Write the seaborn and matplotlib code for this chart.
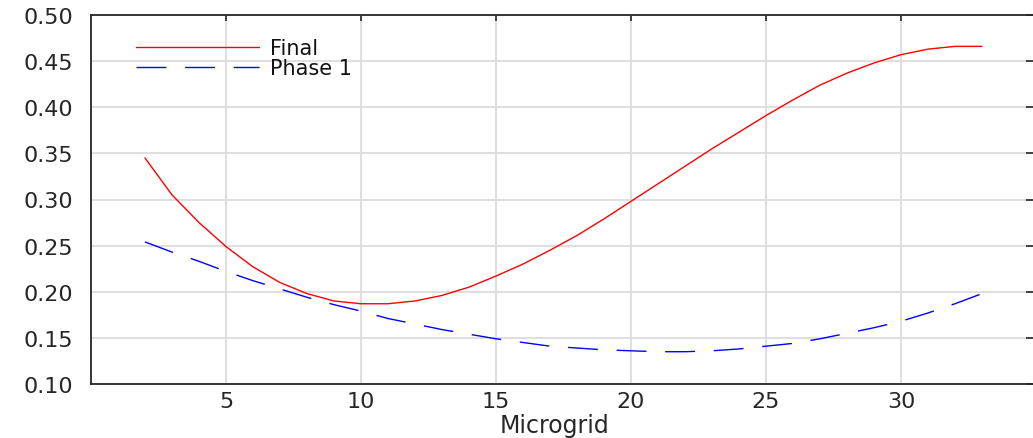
import numpy as np
import pandas as pd
import matplotlib
matplotlib.use("Agg")
import matplotlib.pyplot as plt
import seaborn as sns
from matplotlib.lines import Line2D

microgrid = list(range(2, 34))
final = [0.345, 0.305, 0.275, 0.249, 0.227, 0.210, 0.198, 0.190, 0.187, 0.187,
         0.190, 0.196, 0.205, 0.217, 0.230, 0.245, 0.261, 0.279, 0.298, 0.317,
         0.336, 0.355, 0.373, 0.391, 0.408, 0.424, 0.437, 0.448, 0.457, 0.463,
         0.466, 0.466]
phase1 = [0.254, 0.243, 0.233, 0.222, 0.212, 0.203, 0.194, 0.186, 0.179, 0.171,
          0.165, 0.159, 0.154, 0.149, 0.145, 0.141, 0.139, 0.137, 0.136, 0.135,
          0.135, 0.136, 0.138, 0.141, 0.144, 0.149, 0.155, 0.161, 0.168, 0.177,
          0.187, 0.198]
series_names = ["Final", "Phase 1"]
xticks = [5, 10, 15, 20, 25, 30]
yticks = [0.10, 0.15, 0.20, 0.25, 0.30, 0.35, 0.40, 0.45, 0.50]

df = pd.DataFrame({
    "Microgrid": microgrid * 2,
    "value": final + phase1,
    "series": [series_names[0]] * len(final) + [series_names[1]] * len(phase1),
})

sns.set_style("whitegrid")
plt.rcParams["font.family"] = ["DejaVu Sans"]

DASH = (21.5, 13.5)

fig = plt.figure(figsize=(10.33, 4.39), dpi=100)
ax = fig.add_axes([91 / 1033, 54 / 439, 945 / 1033, 369 / 439])

sns.lineplot(data=df, x="Microgrid", y="value", hue="series", style="series",
             palette={"Final": "#ff0000", "Phase 1": "#0000ff"},
             dashes={"Final": "", "Phase 1": DASH},
             linewidth=1.0, ax=ax, legend=False)

ax.set_xlim(0, 35)
ax.set_ylim(0.10, 0.50)
ax.set_xticks(xticks)
ax.set_yticks(yticks)
ax.set_yticklabels([f"{v:.2f}" for v in yticks])
ax.set_xlabel("Microgrid", fontsize=17, color="#262626")
ax.set_ylabel("")
ax.tick_params(axis="both", which="both", direction="in", width=1.2,
               top=True, right=True, labelsize=16, colors="#262626")
ax.tick_params(axis="x", length=4.5, pad=5)
ax.tick_params(axis="y", length=7, pad=13)
ax.grid(True, color="#dcdcdc", linewidth=1.3)
for s in ax.spines.values():
    s.set_visible(True)
    s.set_color("#262626")
    s.set_linewidth(1.3)

ax.xaxis.set_label_coords((555 - 91) / 945, -0.078)
ax.xaxis.label.set_va("top")

handles = [Line2D([], [], color="#ff0000", lw=1.0),
           Line2D([], [], color="#0000ff", lw=1.0, dashes=DASH)]
leg = ax.legend(handles, series_names, loc="upper left", frameon=False,
                fontsize=15, handlelength=5.9, handletextpad=0.5,
                labelspacing=0.0, borderaxespad=0.0,
                bbox_to_anchor=(0.039, 0.96))
for t in leg.get_texts():
    t.set_color("#111111")

fig.savefig("out.png", dpi=100)
